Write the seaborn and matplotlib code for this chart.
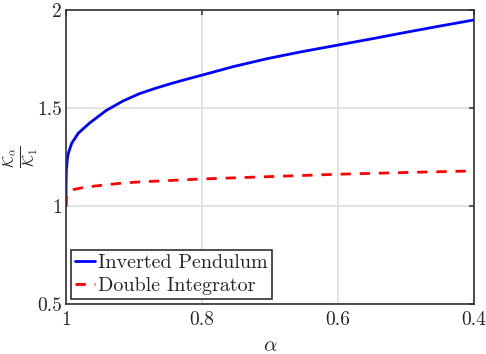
import matplotlib
matplotlib.use("Agg")
import matplotlib.pyplot as plt
import seaborn as sns
import pandas as pd

# values
alpha_ip = [1.0, 0.9999, 0.9995, 0.998, 0.9965, 0.9916, 0.9818, 0.965,
            0.9406, 0.916, 0.892, 0.867, 0.843, 0.818, 0.791, 0.754, 0.705,
            0.655, 0.6, 0.55, 0.5, 0.45, 0.4]
ratio_ip = [1.0, 1.10, 1.18, 1.24, 1.27, 1.32, 1.372, 1.424,
            1.488, 1.536, 1.573, 1.602, 1.627, 1.651, 1.676, 1.711, 1.751,
            1.786, 1.821, 1.853, 1.886, 1.918, 1.949]

alpha_di = [1.0, 0.9995, 0.998, 0.995, 0.989, 0.975, 0.957, 0.92, 0.896,
            0.8, 0.7, 0.6, 0.5, 0.4]
ratio_di = [1.0, 1.045, 1.06, 1.072, 1.084, 1.094, 1.102, 1.116, 1.122,
            1.138, 1.15, 1.162, 1.171, 1.179]

labels = ["Inverted Pendulum", "Double Integrator"]
x_ticks = [1, 0.8, 0.6, 0.4]
x_tick_labels = ["1", "0.8", "0.6", "0.4"]
y_ticks = [0.5, 1, 1.5, 2]
y_tick_labels = ["0.5", "1", "1.5", "2"]

df = pd.concat([
    pd.DataFrame({"alpha": alpha_ip, "ratio": ratio_ip, "system": labels[0]}),
    pd.DataFrame({"alpha": alpha_di, "ratio": ratio_di, "system": labels[1]}),
])

sns.set_style("white")
plt.rcParams["font.family"] = ["cmr10", "DejaVu Serif"]
plt.rcParams["mathtext.fontset"] = "cm"
plt.rcParams["axes.formatter.use_mathtext"] = True

fig = plt.figure(figsize=(4.86, 3.54), dpi=100)
ax = fig.add_axes([0.1358, 0.1412, 0.8392, 0.8306])

sns.lineplot(data=df, x="alpha", y="ratio", hue="system", style="system",
             palette={labels[0]: "#0000ff", labels[1]: "#ff0000"},
             dashes={labels[0]: "", labels[1]: (3.7, 3.2)},
             linewidth=2, sort=False, estimator=None, ax=ax)

ax.set_xlim(1, 0.4)
ax.set_ylim(0.5, 2)
ax.set_xticks(x_ticks)
ax.set_xticklabels(x_tick_labels)
ax.set_yticks(y_ticks)
ax.set_yticklabels(y_tick_labels)
ax.grid(True, color="#dedede", linewidth=1.2)
ax.set_axisbelow(True)
ax.tick_params(direction="in", length=3.5, width=1.1, color="#303030",
               labelsize=14, labelcolor="#262626", top=True, right=True)
ax.tick_params(axis="x", pad=5)
ax.tick_params(axis="y", pad=3)
for s in ax.spines.values():
    s.set_color("#303030")
    s.set_linewidth(1.2)

ax.set_xlabel(r"$\alpha$", fontsize=15, color="#262626")
ax.xaxis.set_label_coords(0.5, -0.112)
ax.set_ylabel(r"$\frac{\mathcal{K}_\alpha}{\mathcal{K}_1}$", fontsize=16,
              color="#262626")
ax.yaxis.set_label_coords(-0.064, 0.5)

leg = ax.legend(loc="lower left", fontsize=14.5, handlelength=1.0,
                handletextpad=0.15, borderpad=0.2, labelspacing=0.25,
                borderaxespad=0.25, fancybox=False, framealpha=1)
leg.get_frame().set_edgecolor("#303030")
leg.get_frame().set_linewidth(1.2)

fig.savefig("out.png", dpi=100)
